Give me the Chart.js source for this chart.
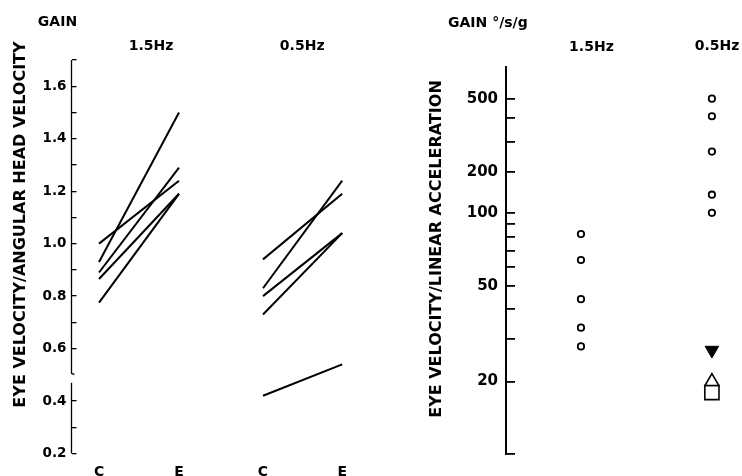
<!DOCTYPE html>
<html>
<head>
<meta charset="utf-8">
<title>VOR gain</title>
<script src="https://cdn.jsdelivr.net/npm/chart.js@4.4.0/dist/chart.umd.min.js"></script>
<style>
  html, body { margin: 0; padding: 0; background: #fff; }
  #wrap { position: relative; width: 742px; height: 476px; overflow: hidden; }
  #rotationChart { position: absolute; left: 0; top: 0; }
  #linearChart { position: absolute; left: 380px; top: 0; }
</style>
</head>
<body>
<div id="wrap">
  <canvas id="rotationChart" width="380" height="476"></canvas>
  <canvas id="linearChart" width="362" height="476"></canvas>
</div>
<script>
// angular gain, control (C) vs experimental (E), one line per animal
const rotConditions = ['C', 'E', 'C', 'E'];
const rotFrequencies = ['1.5Hz', '0.5Hz'];
const rot15Control = [1.00, 0.93, 0.89, 0.865, 0.775];
const rot15Exp = [1.24, 1.50, 1.29, 1.19, 1.19];
const rot05Control = [0.94, 0.83, 0.80, 0.73, 0.42];
const rot05Exp = [1.19, 1.24, 1.04, 1.04, 0.54];
const rotTicks = [0.2, 0.3, 0.4, 0.6, 0.7, 0.8, 0.9, 1.0, 1.1, 1.2, 1.3, 1.4, 1.5, 1.6, 1.7];
const rotLabelledTicks = [0.2, 0.4, 0.6, 0.8, 1.0, 1.2, 1.4, 1.6];

// linear acceleration gain (deg/s/g)
const accFrequencies = ['1.5Hz', '0.5Hz'];
const acc15 = [82, 64, 44, 33.5, 28];
const acc05 = [500, 410, 265, 140, 101];
const acc05Filled = [27];
const acc05Triangle = [20];
const acc05Square = [18];
const accTicks = [10, 20, 30, 40, 50, 60, 70, 80, 90, 100, 200, 300, 400, 500];
const accLabelledTicks = [20, 50, 100, 200, 500];

// x slots for C/E columns, and the gap drawn in the gain axis
const rotSlots = [0, 1, 2.05, 3.04];
const axisBreak = [0.47, 0.505];

const FONT = '"DejaVu Sans", sans-serif';
Chart.defaults.font.family = FONT;
Chart.defaults.color = '#000';

// the acceleration axis is hand-drawn: one log decade below 100, a squeezed one above
function gainPos(v) {
  const u = Math.log10(v);
  if (u <= 2) return 241 * (u - 1);
  const w = u - 2;
  return 241 + 118.3 * w + 66 * w * w;
}

class GainScale extends Chart.LogarithmicScale {
  static id = 'gainlog';
  getPixelForValue(value) {
    if (value === undefined || value === 0) value = this.min;
    if (value === null || isNaN(value)) return NaN;
    const lo = gainPos(this.min);
    const dec = (gainPos(value) - lo) / (gainPos(this.max) - lo);
    return this.getPixelForDecimal(dec);
  }
  getValueForPixel(pixel) {
    const dec = this.getDecimalForPixel(pixel);
    let a = this.min, b = this.max;
    for (let i = 0; i < 40; i++) {
      const m = Math.sqrt(a * b);
      if (this.getDecimalForPixel(this.getPixelForValue(m)) < dec) a = m; else b = m;
    }
    return Math.sqrt(a * b);
  }
}
Chart.register(GainScale);

const pairLines = (ctrl, exp, xc, xe) => ctrl.map((c, i) => ({
  data: [{ x: xc, y: c }, { x: xe, y: exp[i] }],
  borderColor: '#000',
  borderWidth: 2,
  pointRadius: 0,
  tension: 0,
  fill: false,
}));

const rotationText = {
  id: 'rotationText',
  afterDraw(chart) {
    const { ctx, scales: { x, y } } = chart;
    ctx.save();
    ctx.fillStyle = '#000';
    ctx.strokeStyle = '#000';
    // gain axis with a break near 0.5
    const ax = y.right;
    ctx.lineWidth = 1.3;
    ctx.beginPath();
    ctx.moveTo(ax, y.getPixelForValue(1.7));
    ctx.lineTo(ax, y.getPixelForValue(axisBreak[1]));
    ctx.lineTo(ax + 3, y.getPixelForValue(axisBreak[1]) + 1);
    ctx.moveTo(ax, y.getPixelForValue(axisBreak[0]));
    ctx.lineTo(ax, y.getPixelForValue(0.2));
    ctx.stroke();

    ctx.textAlign = 'center';
    ctx.textBaseline = 'middle';
    ctx.font = 'bold 14px ' + FONT;
    ctx.fillText('GAIN', 57.5, 22);
    ctx.fillText(rotFrequencies[0], x.getPixelForValue(0.65), 46);
    ctx.fillText(rotFrequencies[1], x.getPixelForValue(2.54), 46);

    ctx.translate(21, 224.5);
    ctx.rotate(-Math.PI / 2);
    ctx.font = 'bold 16px ' + FONT;
    ctx.fillText('EYE VELOCITY/ANGULAR HEAD VELOCITY', 0, 0);
    ctx.restore();
  },
};

const linearText = {
  id: 'linearText',
  afterDraw(chart) {
    const { ctx, scales: { x } } = chart;
    ctx.save();
    ctx.fillStyle = '#000';
    ctx.textBaseline = 'middle';
    ctx.textAlign = 'left';
    ctx.font = 'bold 14px ' + FONT;
    ctx.fillText('GAIN °/s/g', 68, 23);
    ctx.textAlign = 'center';
    ctx.fillText(accFrequencies[0], x.getPixelForValue(0.08), 47);
    ctx.fillText(accFrequencies[1], x.getPixelForValue(1.04), 46);

    ctx.translate(57, 249);
    ctx.rotate(-Math.PI / 2);
    ctx.font = 'bold 16px ' + FONT;
    ctx.fillText('EYE VELOCITY/LINEAR ACCELERATION', 0, 0);
    ctx.restore();
  },
};

new Chart(document.getElementById('rotationChart'), {
  type: 'line',
  data: {
    datasets: [
      ...pairLines(rot15Control, rot15Exp, rotSlots[0], rotSlots[1]),
      ...pairLines(rot05Control, rot05Exp, rotSlots[2], rotSlots[3]),
    ],
  },
  options: {
    responsive: false,
    animation: false,
    events: [],
    layout: { padding: { top: 60, bottom: 0, left: 0, right: 1 } },
    plugins: { legend: { display: false }, tooltip: { enabled: false } },
    scales: {
      x: {
        type: 'linear',
        min: -0.344,
        max: 3.5,
        grid: { display: false },
        border: { display: false },
        ticks: {
          autoSkip: false,
          maxRotation: 0,
          padding: 2,
          font: { size: 14, weight: 'bold' },
          callback: (value, index) => rotConditions[index] ?? '',
        },
        afterBuildTicks: (scale) => { scale.ticks = rotSlots.map((v) => ({ value: v })); },
        afterFit: (scale) => { scale.height = 22.5; },
      },
      y: {
        type: 'linear',
        min: 0.2,
        max: 1.7,
        grid: { drawOnChartArea: false, drawTicks: true, tickLength: -5, color: '#000', lineWidth: 1.3 },
        border: { display: false },
        ticks: {
          autoSkip: false,
          padding: 10,
          font: { size: 13.5, weight: 'bold' },
          callback: (value) => {
            const v = Math.round(value * 10) / 10;
            return rotLabelledTicks.includes(v) ? v.toFixed(1) : '';
          },
        },
        afterBuildTicks: (scale) => { scale.ticks = rotTicks.map((v) => ({ value: v })); },
        afterFit: (scale) => { scale.width = 71.5; },
      },
    },
  },
  plugins: [rotationText],
});

new Chart(document.getElementById('linearChart'), {
  type: 'scatter',
  data: {
    datasets: [
      {
        data: acc15.map((v) => ({ x: 0, y: v })),
        pointStyle: 'circle', pointRadius: 3.2, borderWidth: 1.8,
        borderColor: '#000', backgroundColor: '#fff',
      },
      {
        data: acc05.map((v) => ({ x: 1, y: v })),
        pointStyle: 'circle', pointRadius: 3.2, borderWidth: 1.8,
        borderColor: '#000', backgroundColor: '#fff',
      },
      {
        data: acc05Filled.map((v) => ({ x: 1, y: v })),
        pointStyle: 'triangle', rotation: 180, pointRadius: 7.8, borderWidth: 1,
        borderColor: '#000', backgroundColor: '#000',
      },
      {
        data: acc05Triangle.map((v) => ({ x: 1, y: v })),
        pointStyle: 'triangle', pointRadius: 8, borderWidth: 1.6,
        borderColor: '#000', backgroundColor: '#fff',
      },
      {
        data: acc05Square.map((v) => ({ x: 1, y: v })),
        pointStyle: 'rect', pointRadius: 10, borderWidth: 1.6,
        borderColor: '#000', backgroundColor: '#fff',
      },
    ],
  },
  options: {
    responsive: false,
    animation: false,
    events: [],
    layout: { padding: { top: 66.5, bottom: 22, left: 0, right: 2 } },
    plugins: { legend: { display: false }, tooltip: { enabled: false } },
    scales: {
      x: { type: 'linear', display: false, min: -0.5725, max: 1.1412 },
      y: {
        type: 'gainlog',
        position: 'left',
        min: 10,
        max: 700,
        grid: { drawOnChartArea: false, drawTicks: true, tickLength: -9, color: '#000', lineWidth: 1.8 },
        border: { display: true, color: '#000', width: 2 },
        ticks: {
          autoSkip: false,
          padding: 17,
          font: { size: 15, weight: 'bold' },
          callback: (value) => (accLabelledTicks.includes(value) ? String(value) : ''),
        },
        afterBuildTicks: (scale) => { scale.ticks = accTicks.map((v) => ({ value: v })); },
        afterFit: (scale) => {
          scale.width = 126;
          // let the layout padding alone set the plot height
          scale.paddingTop = 0;
          scale.paddingBottom = 0;
        },
      },
    },
  },
  plugins: [linearText],
});
</script>
</body>
</html>
